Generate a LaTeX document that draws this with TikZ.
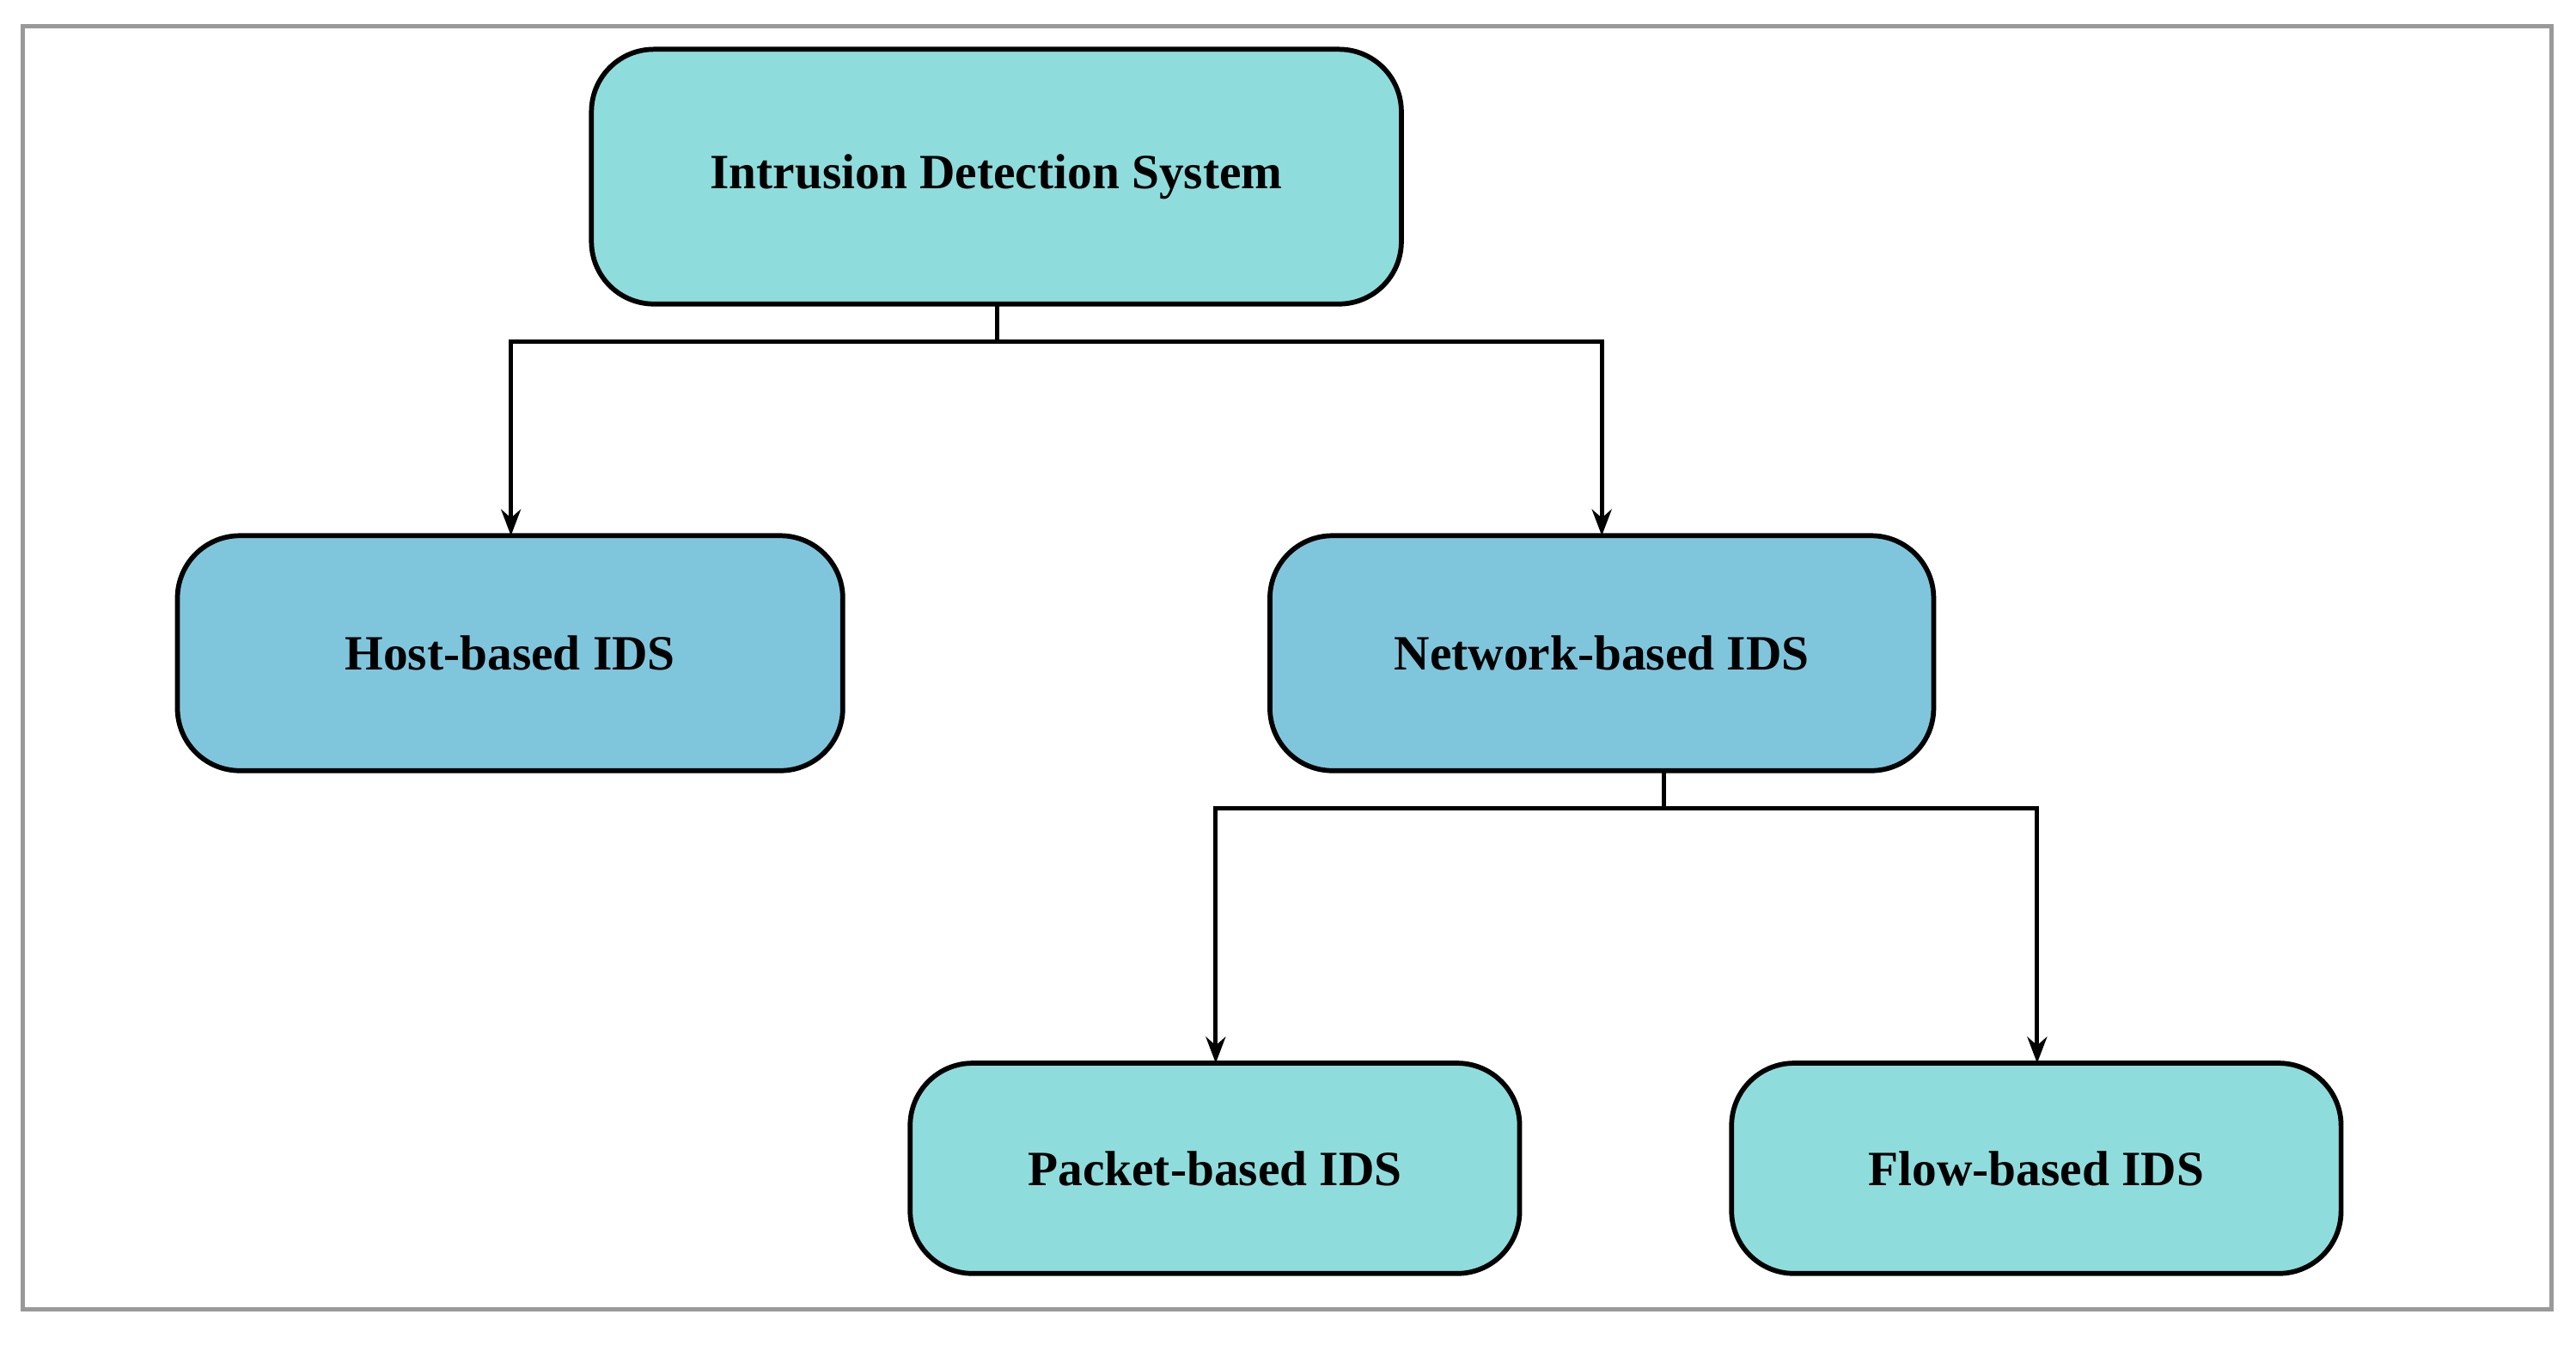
\documentclass[tikz,border=0pt]{standalone}
\usepackage{fontspec}
\setmainfont{Liberation Serif}
\usetikzlibrary{arrows.meta}
\definecolor{teal1}{HTML}{8FDCDC}
\definecolor{blue1}{HTML}{7FC6DD}
\begin{document}
\begin{tikzpicture}[x=1pt,y=-1pt,
  box/.style={draw=black,line width=3pt,rounded corners=38pt,font=\fontsize{30}{36}\selectfont\bfseries},
  conn/.style={line width=2.6pt,-{Stealth[length=16pt,width=12pt]}}]
\useasboundingbox (0,0) rectangle (1568,818);
\draw[gray!80,line width=2.5pt] (14,16) rectangle (1553,797);
\path[box,fill=teal1] (360,30) rectangle (853,185);
\node[font=\fontsize{30}{36}\selectfont\bfseries] (ids) at (606.5,107.5) {Intrusion Detection System};
\path[box,fill=blue1] (108,326) rectangle (513,469);
\node[font=\fontsize{30}{36}\selectfont\bfseries] (host) at (310.5,397.5) {Host-based IDS};
\path[box,fill=blue1] (773,326) rectangle (1177,469);
\node[font=\fontsize{30}{36}\selectfont\bfseries] (net) at (975,397.5) {Network-based IDS};
\path[box,fill=teal1] (554,647) rectangle (925,775);
\node[font=\fontsize{30}{36}\selectfont\bfseries] (pkt) at (739.5,711) {Packet-based IDS};
\path[box,fill=teal1] (1054,647) rectangle (1425,775);
\node[font=\fontsize{30}{36}\selectfont\bfseries] (flow) at (1239.5,711) {Flow-based IDS};
\coordinate (a) at (607,185); \coordinate (a1) at (607,208);
\coordinate (h) at (311,326); \coordinate (n) at (975,326);
\draw[line width=2.6pt] (a) -- (a1);
\draw[conn] (a1) -| (h);
\draw[conn] (a1) -| (n);
\coordinate (b) at (1013,469); \coordinate (b1) at (1013,492);
\coordinate (p) at (740,647); \coordinate (f) at (1240,647);
\draw[line width=2.6pt] (b) -- (b1);
\draw[conn] (b1) -| (p);
\draw[conn] (b1) -| (f);
\end{tikzpicture}
\end{document}
